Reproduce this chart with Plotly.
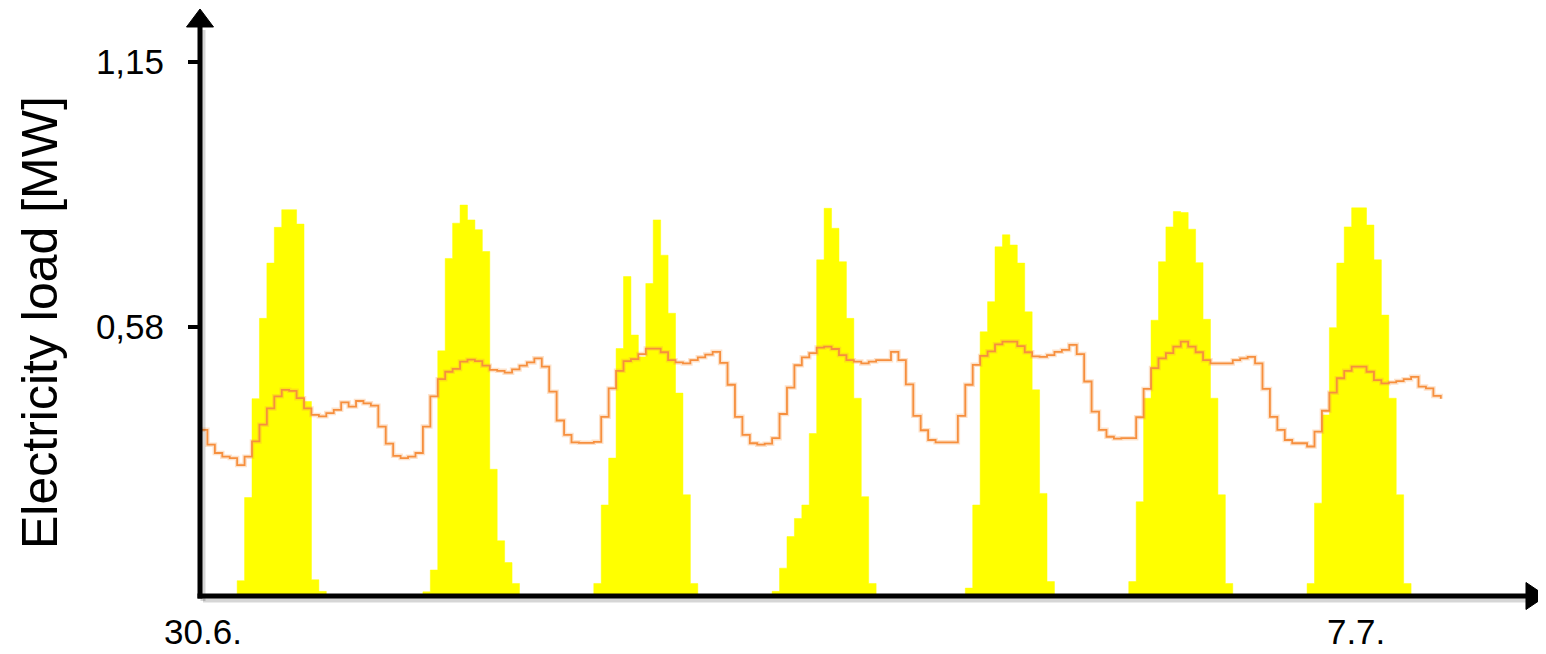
import plotly.graph_objects as go

# ---------------- data (hourly, 30.6. 00:00 -> 7 days) ----------------
hours = list(range(168))

pv_mw = [
    0, 0, 0, 0, 0, 0.033, 0.212, 0.425, 0.598, 0.717, 0.794, 0.832, 0.832, 0.801, 0.419, 0.035, 0.010, 0, 0, 0, 0, 0, 0, 0,
    0, 0, 0, 0, 0, 0, 0.009, 0.056, 0.528, 0.727, 0.803, 0.842, 0.810, 0.789, 0.742, 0.273, 0.119, 0.072, 0.027, 0, 0, 0, 0, 0,
    0, 0, 0, 0, 0, 0.027, 0.196, 0.297, 0.533, 0.688, 0.562, 0.515, 0.673, 0.810, 0.734, 0.609, 0.437, 0.218, 0.027, 0, 0, 0, 0, 0,
    0, 0, 0, 0, 0, 0.010, 0.060, 0.128, 0.167, 0.196, 0.350, 0.724, 0.835, 0.792, 0.720, 0.598, 0.426, 0.214, 0.027, 0, 0, 0, 0, 0,
    0, 0, 0, 0, 0, 0, 0, 0.017, 0.196, 0.569, 0.634, 0.752, 0.778, 0.756, 0.717, 0.612, 0.444, 0.221, 0.031, 0, 0, 0, 0, 0,
    0, 0, 0, 0, 0, 0.031, 0.203, 0.426, 0.594, 0.720, 0.795, 0.828, 0.826, 0.790, 0.718, 0.596, 0.426, 0.218, 0.027, 0, 0, 0, 0, 0,
    0, 0, 0, 0, 0, 0.027, 0.200, 0.390, 0.578, 0.717, 0.795, 0.836, 0.836, 0.799, 0.724, 0.605, 0.426, 0.218, 0.027, 0, 0, 0, 0, 0,
]

load_mw = [
    0.358, 0.326, 0.308, 0.300, 0.297, 0.282, 0.300, 0.333, 0.369, 0.404, 0.430, 0.444, 0.442, 0.426, 0.404, 0.390, 0.387, 0.394, 0.401, 0.417, 0.408, 0.420, 0.415, 0.410,
    0.365, 0.328, 0.302, 0.297, 0.300, 0.308, 0.365, 0.430, 0.467, 0.483, 0.489, 0.505, 0.509, 0.506, 0.496, 0.487, 0.485, 0.481, 0.488, 0.496, 0.503, 0.512, 0.494, 0.440,
    0.378, 0.347, 0.331, 0.330, 0.330, 0.332, 0.386, 0.447, 0.485, 0.506, 0.510, 0.521, 0.533, 0.533, 0.525, 0.508, 0.503, 0.501, 0.508, 0.514, 0.520, 0.526, 0.502, 0.455,
    0.386, 0.347, 0.329, 0.326, 0.328, 0.340, 0.392, 0.449, 0.497, 0.514, 0.523, 0.535, 0.537, 0.532, 0.519, 0.508, 0.505, 0.501, 0.505, 0.508, 0.508, 0.526, 0.508, 0.456,
    0.388, 0.357, 0.336, 0.331, 0.331, 0.331, 0.388, 0.455, 0.498, 0.517, 0.527, 0.542, 0.548, 0.548, 0.538, 0.525, 0.516, 0.515, 0.519, 0.526, 0.530, 0.541, 0.521, 0.462,
    0.397, 0.358, 0.343, 0.339, 0.340, 0.340, 0.385, 0.446, 0.491, 0.512, 0.523, 0.537, 0.548, 0.537, 0.525, 0.508, 0.501, 0.501, 0.501, 0.508, 0.512, 0.515, 0.501, 0.446,
    0.386, 0.358, 0.336, 0.329, 0.329, 0.322, 0.354, 0.399, 0.438, 0.469, 0.485, 0.494, 0.494, 0.483, 0.465, 0.458, 0.460, 0.463, 0.467, 0.472, 0.451, 0.447, 0.431, 0.425,
]

y_tick_vals = [0.58, 1.15]
y_tick_text = ["0,58", "1,15"]
x_tick_vals = [0.4, 155.6]
x_tick_text = ["30.6.", "7.7."]
y_title = "Electricity load [MW]"

# ---------------- layout geometry ----------------
# the page body has an 8px margin, so the figure is drawn 8px in from the window corner
OFF = 8
W, H = 1546 - OFF, 654 - OFF
ML, MR, MT, MB = 200 - OFF, 0, 0, 58
PW, PH = W - ML - MR, H - MT - MB
PX_PER_HOUR = 7.43
PX_PER_MW = 464.3
x_range = [0, PW / PX_PER_HOUR]
y_range = [0, PH / PX_PER_MW]


def px(x):  # window pixel -> paper
    return (x - OFF - ML) / PW


def py(y):  # window pixel -> paper
    return (OFF + MT + PH - y) / PH


YELLOW = "#FFFF00"
ORANGE = "#F68F3E"
FONT = "Liberation Sans, Arial, Helvetica, sans-serif"

fig = go.Figure()
fig.add_trace(go.Scatter(
    x=hours, y=pv_mw, mode="lines", line=dict(shape="hv", color=YELLOW, width=0.5),
    fill="tozeroy", fillcolor=YELLOW, hoverinfo="skip", name="PV"))
fig.add_trace(go.Scatter(
    x=hours, y=load_mw, mode="lines", line=dict(shape="hv", color="rgba(247,150,70,0.28)", width=4.5),
    hoverinfo="skip", name="Load glow", showlegend=False))
fig.add_trace(go.Scatter(
    x=hours, y=load_mw, mode="lines", line=dict(shape="hv", color=ORANGE, width=1.8),
    hoverinfo="skip", name="Load"))

shapes = []
shadow = dict(type="line", xref="paper", yref="paper", line=dict(color="rgba(0,0,0,0.16)", width=5), layer="above")
shapes.append({**shadow, "x0": px(203), "y0": py(601), "x1": px(203), "y1": py(30)})
shapes.append({**shadow, "x0": px(203), "y0": py(600), "x1": px(1530), "y1": py(600)})
axis = dict(type="line", xref="paper", yref="paper", line=dict(color="black", width=5), layer="above")
shapes.append({**axis, "x0": px(200), "y0": py(598.5), "x1": px(200), "y1": py(22)})
shapes.append({**axis, "x0": px(197.5), "y0": py(596), "x1": px(1530), "y1": py(596)})


def tri(pts):
    return "M " + " L ".join(f"{px(a):.5f},{py(b):.5f}" for a, b in pts) + " Z"


shapes.append(dict(type="path", xref="paper", yref="paper", layer="above",
                   path=tri([(186.5, 27), (213.5, 27), (200, 9)]),
                   fillcolor="black", line=dict(color="black", width=1)))
shapes.append(dict(type="path", xref="paper", yref="paper", layer="above",
                   path=tri([(1526, 582.5), (1526, 609.5), (1546, 596)]),
                   fillcolor="black", line=dict(color="black", width=1)))

fig.update_layout(
    width=W, height=H,
    margin=dict(l=ML, r=MR, t=MT, b=MB, pad=0),
    paper_bgcolor="white", plot_bgcolor="white",
    showlegend=False,
    font=dict(family=FONT, color="black"),
    shapes=shapes,
    xaxis=dict(range=x_range, showgrid=False, zeroline=False, showline=False,
               tickvals=x_tick_vals, ticktext=x_tick_text, ticks="",
               tickfont=dict(size=35, family=FONT, color="black"),
               ticklabelstandoff=12, fixedrange=True),
    yaxis=dict(range=y_range, showgrid=False, zeroline=False, showline=False,
               tickvals=y_tick_vals, ticktext=y_tick_text, ticks="outside",
               ticklen=11, tickwidth=4, tickcolor="black",
               tickfont=dict(size=35, family=FONT, color="black"),
               ticklabelstandoff=17, fixedrange=True),
    annotations=[dict(text=y_title, xref="paper", yref="paper",
                      x=px(40), y=py(323), xanchor="center", yanchor="middle",
                      textangle=-90, showarrow=False,
                      font=dict(size=50, family=FONT, color="black"))],
)

fig.write_html("out.html")
